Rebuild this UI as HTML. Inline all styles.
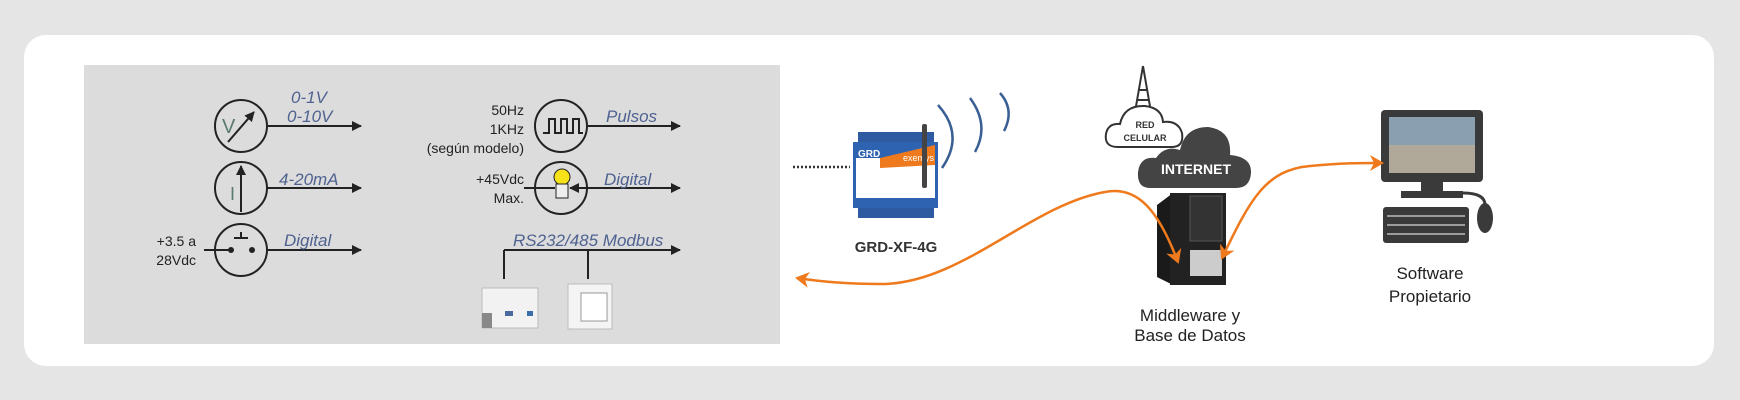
<!DOCTYPE html>
<html><head><meta charset="utf-8"><style>
html,body{margin:0;padding:0;background:#e5e5e5;}
svg{display:block}
text{font-family:"Liberation Sans",sans-serif;}
.lbl{font-style:italic;fill:#4f6290;font-size:17px;}
.blk{fill:#222;font-size:14px;}
</style></head><body>
<svg width="1740" height="400" viewBox="0 0 1740 400" xmlns="http://www.w3.org/2000/svg">
<defs>
<marker id="ah" markerWidth="10" markerHeight="10" refX="9" refY="5" orient="auto" markerUnits="userSpaceOnUse"><path d="M0,0 L10,5 L0,10 Z" fill="#222"/></marker>
<marker id="oa" markerWidth="16" markerHeight="16" refX="12" refY="8" orient="auto" markerUnits="userSpaceOnUse"><path d="M0,0 L14,8 L0,16 L4,8 Z" fill="#ee7a1d"/></marker>
<marker id="os" markerWidth="16" markerHeight="16" refX="12" refY="8" orient="auto-start-reverse" markerUnits="userSpaceOnUse"><path d="M0,0 L14,8 L0,16 L4,8 Z" fill="#ee7a1d"/></marker>
</defs>
<rect x="0" y="0" width="1740" height="400" fill="#e5e5e5"/>
<rect x="24" y="35" width="1690" height="331" rx="22" fill="#fff"/>
<rect x="84" y="65" width="696" height="279" fill="#dcdcdc"/>

<g stroke="#222" stroke-width="2" fill="none">
<circle cx="241" cy="126" r="26"/><circle cx="241" cy="188" r="26"/><circle cx="241" cy="250" r="26"/>
<line x1="267" y1="126" x2="361" y2="126" marker-end="url(#ah)"/>
<line x1="267" y1="188" x2="361" y2="188" marker-end="url(#ah)"/>
<line x1="267" y1="250" x2="361" y2="250" marker-end="url(#ah)"/>
<line x1="228" y1="142" x2="254" y2="112" marker-end="url(#ah)"/>
<line x1="241" y1="212" x2="241" y2="166" marker-end="url(#ah)"/>
<line x1="204" y1="250" x2="231" y2="250"/>
<line x1="234" y1="238" x2="248" y2="238"/><line x1="241" y1="232" x2="241" y2="238"/>
<circle cx="561" cy="126" r="26"/><circle cx="561" cy="188" r="26"/>
<line x1="587" y1="126" x2="680" y2="126" marker-end="url(#ah)"/>
<line x1="587" y1="188" x2="680" y2="188" marker-end="url(#ah)"/>
<line x1="587" y1="188" x2="570" y2="188" marker-end="url(#ah)"/>
<line x1="524" y1="188" x2="555" y2="188"/>
<path d="M543,133 h6 v-14 h6 v14 h6 v-14 h6 v14 h6 v-14 h6 v14 h4"/>
<line x1="504" y1="279" x2="504" y2="250"/>
<line x1="504" y1="250" x2="680" y2="250" marker-end="url(#ah)"/>
<line x1="588" y1="279" x2="588" y2="250"/>
</g>
<circle cx="231" cy="250" r="3" fill="#222"/><circle cx="252" cy="250" r="3" fill="#222"/>
<text x="222" y="133" font-size="20" fill="#5a7a70">V</text>
<text x="230" y="200" font-size="18" fill="#5a7a70">I</text>
<circle cx="562" cy="177" r="8" fill="#f7e21a" stroke="#222" stroke-width="1"/>
<rect x="556" y="184" width="12" height="14" fill="#eee" stroke="#222" stroke-width="1"/>

<text class="lbl" x="291" y="103">0-1V</text>
<text class="lbl" x="287" y="122">0-10V</text>
<text class="lbl" x="279" y="185">4-20mA</text>
<text class="lbl" x="284" y="246">Digital</text>
<text class="blk" x="196" y="246" text-anchor="end">+3.5 a</text>
<text class="blk" x="196" y="265" text-anchor="end">28Vdc</text>
<text class="lbl" x="606" y="122">Pulsos</text>
<text class="lbl" x="604" y="185">Digital</text>
<text class="lbl" x="513" y="246">RS232/485 Modbus</text>
<text class="blk" x="524" y="115" text-anchor="end">50Hz</text>
<text class="blk" x="524" y="134" text-anchor="end">1KHz</text>
<text class="blk" x="524" y="153" text-anchor="end">(según modelo)</text>
<text class="blk" x="524" y="184" text-anchor="end">+45Vdc</text>
<text class="blk" x="524" y="203" text-anchor="end">Max.</text>

<!-- PLC & meter -->
<rect x="482" y="288" width="56" height="40" fill="#f2f2f2" stroke="#bbb"/>
<rect x="482" y="313" width="10" height="15" fill="#888"/>
<rect x="505" y="311" width="8" height="5" fill="#4a6aa0"/><rect x="527" y="311" width="6" height="5" fill="#3b6ea8"/>
<rect x="568" y="284" width="44" height="45" fill="#f4f4f4" stroke="#bbb"/>
<rect x="581" y="293" width="26" height="28" fill="#fff" stroke="#999"/>

<!-- dotted -->
<line x1="793" y1="167" x2="850" y2="167" stroke="#333" stroke-width="2.5" stroke-dasharray="2,2"/>
<!-- GRD device -->
<rect x="858" y="132" width="76" height="10" fill="#2d5aa0"/>
<rect x="858" y="208" width="76" height="10" fill="#2d5aa0"/>
<rect x="853" y="142" width="85" height="66" fill="#2d63b0"/>
<rect x="856" y="158" width="79" height="40" fill="#fff"/>
<polygon points="880,158 935,145 935,165 880,168" fill="#ee7a1d"/>
<text x="858" y="157" font-size="10" fill="#fff" font-weight="bold">GRD</text>
<text x="903" y="161" font-size="9" fill="#fff">exemys</text>
<rect x="922" y="124" width="5" height="64" rx="2" fill="#444"/>
<g fill="none" stroke="#3a5f94" stroke-width="2.5">
<path d="M938,105 Q965,135 942,168"/><path d="M970,98 Q990,125 975,152"/><path d="M1000,93 Q1015,110 1004,131"/>
</g>
<text x="896" y="252" font-size="15" font-weight="bold" fill="#333" text-anchor="middle">GRD-XF-4G</text>

<!-- tower -->
<g stroke="#333" stroke-width="2" fill="none"><path d="M1143,66 L1135,112 M1143,66 L1151,112 M1138,90 L1148,90 M1137,100 L1149,100"/></g>
<!-- red celular cloud -->
<path d="M1118,147 Q1104,147 1106,134 Q1108,123 1120,124 Q1124,105 1145,106 Q1162,108 1163,122 Q1178,120 1182,133 Q1184,147 1172,147 Z" fill="#fff" stroke="#333" stroke-width="2"/>
<text x="1145" y="128" font-size="9" font-weight="bold" fill="#333" text-anchor="middle">RED</text>
<text x="1145" y="141" font-size="9" font-weight="bold" fill="#333" text-anchor="middle">CELULAR</text>
<!-- internet cloud -->
<path d="M1150,188 Q1137,188 1138,172 Q1140,156 1156,158 Q1165,145 1180,150 Q1185,127 1208,127 Q1232,130 1230,155 Q1252,157 1251,173 Q1250,188 1236,188 Z" fill="#444"/>
<text x="1196" y="174" font-size="14" font-weight="bold" fill="#fff" text-anchor="middle">INTERNET</text>
<!-- server -->
<polygon points="1157,205 1173,193 1173,285 1157,277" fill="#1a1a1a"/>
<rect x="1170" y="193" width="56" height="92" fill="#222"/>
<rect x="1190" y="196" width="32" height="45" fill="#333" stroke="#555"/>
<rect x="1190" y="250" width="32" height="26" fill="#ccc"/>
<text x="1190" y="321" font-size="17" fill="#222" text-anchor="middle">Middleware y</text>
<text x="1190" y="341" font-size="17" fill="#222" text-anchor="middle">Base de Datos</text>

<!-- monitor -->
<rect x="1381" y="110" width="102" height="72" rx="4" fill="#3a3a3a"/>
<rect x="1389" y="117" width="86" height="56" fill="#8aa0b0"/>
<rect x="1389" y="145" width="86" height="28" fill="#b0a898"/>
<rect x="1421" y="182" width="22" height="10" fill="#3a3a3a"/>
<rect x="1401" y="191" width="62" height="7" fill="#3a3a3a"/>
<rect x="1383" y="207" width="86" height="36" rx="3" fill="#3a3a3a"/>
<g stroke="#fff" stroke-width="1"><line x1="1387" y1="216" x2="1465" y2="216"/><line x1="1387" y1="225" x2="1465" y2="225"/><line x1="1387" y1="234" x2="1465" y2="234"/></g>
<ellipse cx="1485" cy="218" rx="8" ry="15" fill="#3a3a3a"/>
<path d="M1463,193 Q1485,193 1485,205" stroke="#3a3a3a" stroke-width="3" fill="none"/>
<text x="1430" y="279" font-size="17" fill="#222" text-anchor="middle">Software</text>
<text x="1430" y="302" font-size="17" fill="#222" text-anchor="middle">Propietario</text>

<!-- orange curves -->
<path d="M1178,262 C1160,215 1140,185 1105,192 C1030,205 960,285 880,284 C840,284 810,280 797,278" fill="none" stroke="#ee7a1d" stroke-width="2.5" marker-start="url(#os)" marker-end="url(#oa)"/>
<path d="M1222,258 C1250,200 1265,170 1310,166 C1340,163 1360,163 1382,163" fill="none" stroke="#ee7a1d" stroke-width="2.5" marker-start="url(#os)" marker-end="url(#oa)"/>
</svg>
</body></html>
